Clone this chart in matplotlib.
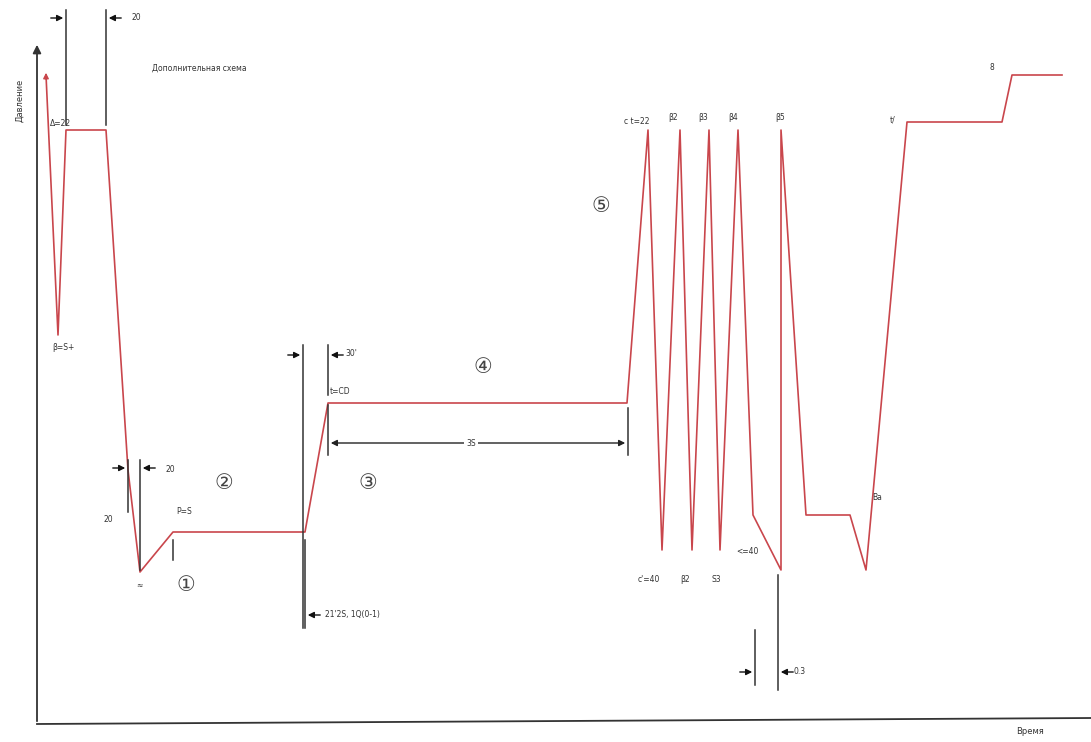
import matplotlib
matplotlib.use('Agg')
import matplotlib.pyplot as plt

# профиль процесса (условные единицы: время -> x, уровень -> y, y растёт вниз как на схеме)
profile_t = [46, 58, 66, 106, 128, 140, 173, 305, 328, 627, 648, 662, 680, 692, 709, 720, 738,
             753, 781, 781, 806, 850, 866, 907, 1002, 1012, 1062]
profile_p = [75, 335, 130, 130, 470, 572, 532, 532, 403, 403, 130, 550, 130, 550, 130, 550, 130,
             515, 570, 130, 515, 515, 570, 122, 122, 75, 75]

# вертикальные выносные линии: x, y_верх, y_низ
ext_x = [66, 106, 128, 140, 303, 328, 328, 628, 305, 755, 778, 173]
ext_top = [10, 125, 460, 460, 345, 345, 405, 408, 540, 630, 575, 540]
ext_bot = [125, 10, 512, 570, 628, 395, 455, 455, 628, 685, 690, 560]

# размерные стрелки: x_кончика, y, направление (+1 вправо, -1 влево)
arr_x = [66, 106, 128, 140, 303, 328, 305, 755, 778]
arr_y = [18, 18, 468, 468, 355, 355, 615, 672, 672]
arr_dir = [1, -1, 1, -1, 1, -1, -1, 1, -1]

# подписи
lab_text = ['20', 'Дополнительная схема', 'Δ=22', 'β=S+', '20', '20', 'P=S', '≈', '30\'',
            't=CD', '3S', '21\'2S, 1Q(0-1)', 'c t=22', 'β2', 'β3', 'β4', 'β5',
            'c\'=40', 'β2', 'S3', '<=40', '0.3', 'Ba', 't/', '8']
lab_x = [131, 152, 50, 52, 166, 104, 176, 136, 345, 330, 466, 325, 624, 668, 698, 728, 775,
         638, 680, 712, 736, 793, 872, 890, 990]
lab_y = [18, 68, 124, 348, 470, 520, 512, 585, 354, 392, 443, 615, 122, 118, 118, 118, 118,
         580, 580, 580, 552, 672, 498, 120, 68]

circ_text = ['①', '②', '③', '④', '⑤']
circ_x = [186, 224, 368, 483, 601]
circ_y = [585, 483, 483, 367, 206]

fig = plt.figure(figsize=(10.91, 7.42), dpi=100)
ax = fig.add_axes([0, 0, 1, 1])
ax.set_xlim(0, 1091)
ax.set_ylim(742, 0)
ax.axis('off')

# оси
ax.annotate('', xy=(37, 42), xytext=(37, 724),
            arrowprops=dict(arrowstyle='-|>', color='#333333', lw=1.3, mutation_scale=12))
ax.plot([37, 1091], [724, 718], color='#333333', lw=1.3)
ax.text(20, 100, 'Давление', rotation=90, fontsize=6, ha='center', va='center', color='#333333')
ax.text(1030, 732, 'Время', fontsize=6, ha='center', va='center', color='#333333')

# профиль
ax.plot(profile_t, profile_p, color='#c9464c', lw=1.2)
ax.annotate('', xy=(46, 70), xytext=(46, 82),
            arrowprops=dict(arrowstyle='-|>', color='#c9464c', lw=1.0, mutation_scale=8))

for x, y0, y1 in zip(ext_x, ext_top, ext_bot):
    ax.plot([x, x], [y0, y1], color='#333333', lw=1.1)

for x, y, d in zip(arr_x, arr_y, arr_dir):
    ax.annotate('', xy=(x, y), xytext=(x - 18 * d, y),
                arrowprops=dict(arrowstyle='-|>', color='#111111', lw=1.0, mutation_scale=9))

# горизонтальный размер 3S
ax.annotate('', xy=(328, 443), xytext=(628, 443),
            arrowprops=dict(arrowstyle='<|-|>', color='#222222', lw=1.0, mutation_scale=9))

for t, x, y in zip(lab_text, lab_x, lab_y):
    ax.text(x, y, t, fontsize=5.5, ha='left', va='center', color='#333333',
            bbox=dict(facecolor='white', edgecolor='none', pad=1.5) if t == '3S' else None)

for t, x, y in zip(circ_text, circ_x, circ_y):
    ax.text(x, y, t, fontsize=15, ha='center', va='center', color='#444444')

fig.savefig('out.png', dpi=100, facecolor='white')
